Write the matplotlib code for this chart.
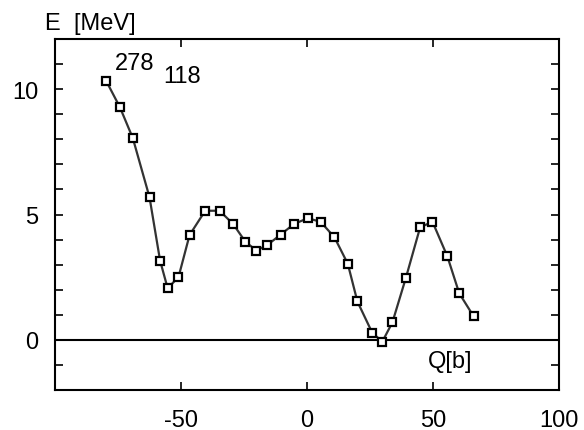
import matplotlib
matplotlib.use("Agg")
import matplotlib.pyplot as plt
from matplotlib.ticker import MultipleLocator, FixedLocator, FuncFormatter

# deformation Q [b] and energy E [MeV]
q_vals = [-79.7, -74.2, -69.1, -62.5, -58.3, -55.3, -51.0, -46.6, -40.4, -34.7,
          -29.3, -24.5, -20.1, -15.8, -10.4, -5.2, 0.3, 5.4, 10.9, 16.2,
          20.0, 25.9, 29.9, 33.9, 39.2, 44.9, 49.8, 55.7, 60.4, 66.1]
e_vals = [10.33, 9.27, 8.04, 5.69, 3.16, 2.06, 2.50, 4.18, 5.15, 5.15,
          4.62, 3.92, 3.56, 3.78, 4.20, 4.62, 4.85, 4.71, 4.09, 3.03,
          1.53, 0.28, -0.07, 0.70, 2.46, 4.49, 4.71, 3.33, 1.86, 0.94]

x_ticks = [-50, 0, 50, 100]
y_labels = [0, 5, 10]

W, H = 584, 431
plt.rcParams["font.family"] = ["Liberation Sans", "DejaVu Sans"]
plt.rcParams["axes.unicode_minus"] = False

fig = plt.figure(figsize=(W / 100, H / 100), dpi=100)
ax = fig.add_axes([55 / W, 1 - 391 / H, (559 - 55) / W, (391 - 40) / H])

ax.axhline(0, color="black", lw=1.5, zorder=1)
ax.plot(q_vals, e_vals, color="#333333", lw=1.6, zorder=2,
        marker="s", ms=6, mfc="white", mec="black", mew=1.6)

ax.set_xlim(-100, 100)
ax.set_ylim(-2, 12)
ax.xaxis.set_major_locator(FixedLocator(x_ticks))
ax.yaxis.set_major_locator(MultipleLocator(1))
ax.yaxis.set_major_formatter(
    FuncFormatter(lambda v, p: f"{v:.0f}" if round(v) in y_labels else ""))
ax.tick_params(direction="in", length=6, width=1.2, top=True, right=True,
               labelsize=17)
ax.tick_params(axis="x", pad=14)
ax.tick_params(axis="y", pad=12)
for s in ax.spines.values():
    s.set_linewidth(1.5)

def ftext(x, y, s):
    fig.text(x / W, 1 - y / H, s, fontsize=17, va="center", ha="left")

ftext(45, 24, "E  [MeV]")
ftext(115, 64, "278")
ftext(163, 77, "118")
ftext(428, 362, "Q[b]")

fig.savefig("out.png", dpi=100)
